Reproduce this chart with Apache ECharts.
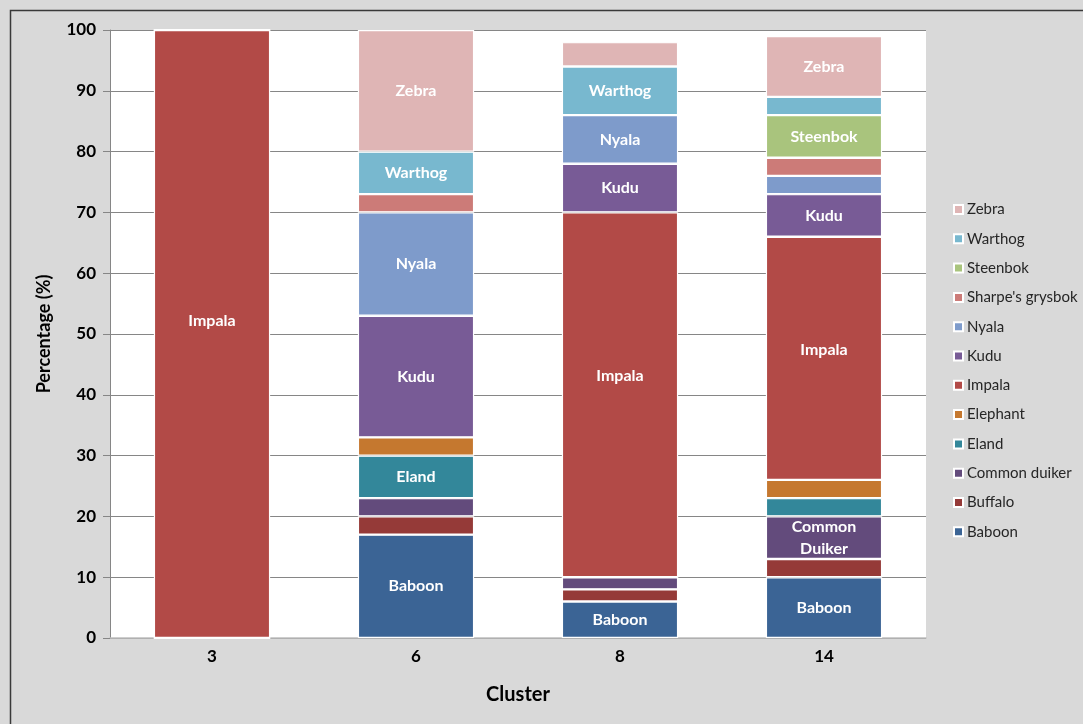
<!DOCTYPE html>
<html>
<head>
<meta charset="utf-8">
<title>Species composition by cluster</title>
<script src="https://cdn.jsdelivr.net/npm/echarts@6/dist/echarts.min.js"></script>
<style>
  html, body { margin: 0; padding: 0; background: #d9d9d9; }
  #chart { width: 1083px; height: 724px; }
</style>
</head>
<body>
<div id="chart"></div>
<script>
// Clusters on the x axis
const clusters = ['3', '6', '8', '14'];

// Percentage of each species per cluster (order: 3, 6, 8, 14)
const baboon       = [0, 17, 6, 10];
const buffalo      = [0, 3, 2, 3];
const commonDuiker = [0, 3, 2, 7];
const eland        = [0, 7, 0, 3];
const elephant     = [0, 3, 0, 3];
const impala       = [100, 0, 60, 40];
const kudu         = [0, 20, 8, 7];
const nyala        = [0, 17, 8, 3];
const sharpes      = [0, 3, 0, 3];
const steenbok     = [0, 0, 0, 7];
const warthog      = [0, 7, 8, 3];
const zebra        = [0, 20, 4, 10];

// Which segments carry an in-bar label (per cluster)
const labelled = {
  'Baboon':           [false, true, true, true],
  'Buffalo':          [false, false, false, false],
  'Common duiker':    [false, false, false, true],
  'Eland':            [false, true, false, false],
  'Elephant':         [false, false, false, false],
  'Impala':           [true, false, true, true],
  'Kudu':             [false, true, true, true],
  'Nyala':            [false, true, true, false],
  "Sharpe's grysbok": [false, false, false, false],
  'Steenbok':         [false, false, false, true],
  'Warthog':          [false, true, true, false],
  'Zebra':            [false, true, false, true]
};

// Text shown inside labelled segments
const labelText = {
  'Common duiker': 'Common\nDuiker'
};

// Vertical nudge (px) for the tall Impala labels, which sit above centre
const impalaLabelShift = [-13, 0, -19, -8];

const species = [
  { name: 'Baboon',           values: baboon,       color: '#3b6495' },
  { name: 'Buffalo',          values: buffalo,      color: '#953a38' },
  { name: 'Common duiker',    values: commonDuiker, color: '#634b7c' },
  { name: 'Eland',            values: eland,        color: '#33879a' },
  { name: 'Elephant',         values: elephant,     color: '#c5782f' },
  { name: 'Impala',           values: impala,       color: '#b24a47' },
  { name: 'Kudu',             values: kudu,         color: '#785b96' },
  { name: 'Nyala',            values: nyala,        color: '#7e9bcb' },
  { name: "Sharpe's grysbok", values: sharpes,      color: '#cc7b78' },
  { name: 'Steenbok',         values: steenbok,     color: '#a9c47d' },
  { name: 'Warthog',          values: warthog,      color: '#78b8cf' },
  { name: 'Zebra',            values: zebra,        color: '#dfb5b5' }
];

const FONT = 'Lato, "Open Sans", sans-serif';

const series = species.map(sp => ({
  name: sp.name,
  type: 'bar',
  stack: 'total',
  barWidth: '57%',
  itemStyle: { color: sp.color, borderColor: '#ffffff', borderWidth: 1.2 },
  emphasis: { disabled: true },
  data: sp.values.map((v, i) => ({
    value: v,
    label: {
      show: labelled[sp.name][i] && v > 0,
      position: 'inside',
      offset: [0, sp.name === 'Impala' ? impalaLabelShift[i] : 0],
      formatter: labelText[sp.name] || sp.name,
      color: '#ffffff',
      fontFamily: FONT,
      fontWeight: 'bold',
      fontSize: 16,
      lineHeight: 22
    }
  }))
}));

const chart = echarts.init(document.getElementById('chart'), null, { renderer: 'canvas' });

chart.setOption({
  backgroundColor: '#d9d9d9',
  animation: false,
  graphic: [{
    type: 'rect',
    left: 8, top: 8,
    shape: { width: 1200, height: 800 },
    style: { fill: 'none', stroke: '#3a3a3a', lineWidth: 1.5 },
    silent: true,
    z: -1
  }],
  grid: {
    left: 110, right: 157, top: 30, bottom: 86,
    show: true, backgroundColor: '#ffffff', borderWidth: 0
  },
  legend: {
    orient: 'vertical',
    left: 948,
    top: 197,
    itemGap: 14.3,
    itemWidth: 9,
    itemHeight: 9,
    icon: 'rect',
    data: species.map(s => s.name).reverse(),
    textStyle: { fontFamily: FONT, fontSize: 15, color: '#262626', padding: [0, 0, 0, -1] },
    selectedMode: false
  },
  xAxis: {
    type: 'category',
    data: clusters,
    name: 'Cluster',
    nameLocation: 'middle',
    nameGap: 47,
    nameTextStyle: { fontFamily: FONT, fontWeight: 'bold', fontSize: 20, color: '#000' },
    axisLine: { lineStyle: { color: '#bfbfbf', width: 1.5 } },
    axisTick: { show: false },
    axisLabel: { fontFamily: FONT, fontWeight: 'bold', fontSize: 17, color: '#000', margin: 10 }
  },
  yAxis: {
    type: 'value',
    min: 0, max: 100, interval: 10,
    name: 'Percentage (%)',
    nameLocation: 'middle',
    nameGap: 57,
    nameTextStyle: { fontFamily: FONT, fontWeight: 'bold', fontSize: 18, color: '#000' },
    axisLine: { show: true, lineStyle: { color: '#868686', width: 1 } },
    axisTick: { show: true, length: 7, lineStyle: { color: '#868686' } },
    axisLabel: { fontFamily: FONT, fontWeight: 'bold', fontSize: 17, color: '#000', margin: 14 },
    splitLine: { lineStyle: { color: '#868686', width: 1 } }
  },
  series: series
});
</script>
</body>
</html>
